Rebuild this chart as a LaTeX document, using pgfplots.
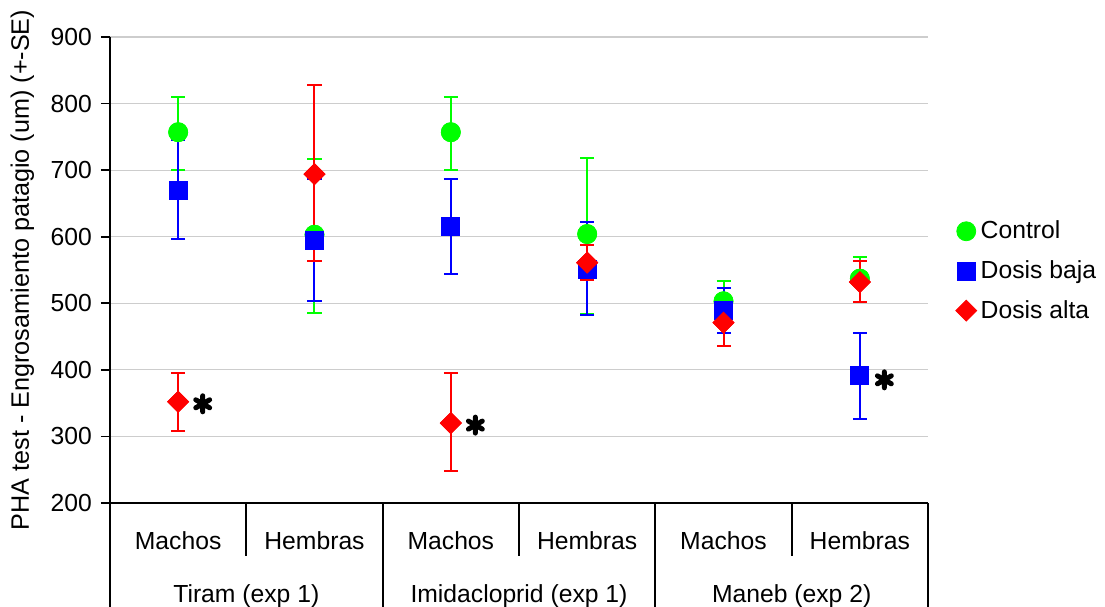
\documentclass[border=0pt]{standalone}
\usepackage{pgfplots}
\pgfplotsset{compat=1.18}
\usepackage{pgfplotstable}
\usepackage{fontspec}
\setmainfont{Liberation Sans}
\definecolor{cgreen}{RGB}{0,255,0}
\definecolor{cblue}{RGB}{0,0,255}
\definecolor{cred}{RGB}{255,0,0}
\definecolor{cgrid}{RGB}{205,205,205}

\pgfplotstableread{
x y ep em
0 757 53 57
1 603 114 117
2 757 53 57
3 604 114 120
4 503 31 31
5 537 32 35
}\control
\pgfplotstableread{
x y ep em
0 670 75 74
1 594 92 91
2 615 71 71
3 551 71 68
4 489 34 34
5 391 65 65
}\baja
\pgfplotstableread{
x y ep em
0 352 43 44
1 694 134 130
2 320 75 72
3 561 26 26
4 471 34 35
5 532 31 30
}\alta
\pgfplotstableread{
x y
0.18 349
2.18 317
5.18 385
}\stars

\begin{document}
\begin{tikzpicture}[font=\fontsize{12.4}{14.8}\selectfont]
\begin{axis}[
  name=ax,
  scale only axis,
  width=409bp, height=233bp,
  xmin=-0.5, xmax=5.5,
  ymin=200, ymax=900,
  ytick={200,300,...,900},
  xtick={0,...,5},
  xticklabels={Machos,Hembras,Machos,Hembras,Machos,Hembras},
  xticklabel style={yshift=-6.5bp},
  major x tick style={draw=none},
  axis x line*=bottom,
  axis y line*=left,
  axis line style={line width=0.9bp, -},
  tick style={line width=0.9bp, black},
  tick align=outside,
  major tick length=4.5bp,
  ymajorgrids,
  grid style={cgrid, line width=0.6bp},
  /pgf/number format/assume math mode=true,
  yticklabel style={xshift=-1bp},
  ylabel={PHA test - Engrosamiento patagio (um) (+-SE)},
  ylabel style={yshift=1.5bp, xshift=0bp, font=\fontsize{12.65}{15}\selectfont},
  clip=false,
  legend style={draw=none, fill=none, at={(axis description cs:1.0335,0.498)}, anchor=west,
    row sep=5.4bp, font=\fontsize{12.4}{14.8}\selectfont, inner sep=0pt},
  legend cell align=left,
]
% pass 1: error bars
\addplot[only marks, mark=*, mark size=4.75bp, color=cgreen,
  error bars/.cd, y dir=both, y explicit,
  error bar style={cgreen, line width=1bp},
  error mark options={rotate=90, mark size=3.5bp, line width=1bp, cgreen}]
  table[x=x, y=y, y error plus=ep, y error minus=em]{\control};
\addlegendentry{Control}
\addplot[only marks, mark=square*, mark size=4.5bp, color=cblue,
  error bars/.cd, y dir=both, y explicit,
  error bar style={cblue, line width=1bp},
  error mark options={rotate=90, mark size=3.5bp, line width=1bp, cblue}]
  table[x=x, y=y, y error plus=ep, y error minus=em]{\baja};
\addlegendentry{Dosis baja}
\addplot[only marks, mark=square*, mark size=3.7bp, mark options={rotate=45}, color=cred,
  error bars/.cd, y dir=both, y explicit,
  error bar style={cred, line width=1bp},
  error mark options={rotate=90, mark size=3.5bp, line width=1bp, cred}]
  table[x=x, y=y, y error plus=ep, y error minus=em]{\alta};
\addlegendentry{Dosis alta}
% pass 2: markers on top
\addplot[forget plot, only marks, mark=*, mark size=4.75bp, color=cgreen] table[x=x,y=y]{\control};
\addplot[forget plot, only marks, mark=square*, mark size=4.5bp, color=cblue] table[x=x,y=y]{\baja};
\addplot[forget plot, only marks, mark=square*, mark size=3.7bp, mark options={rotate=45}, color=cred] table[x=x,y=y]{\alta};
% significance asterisks
\addplot[forget plot, only marks, mark=asterisk, mark size=4bp, black,
  mark options={line width=2.5bp, line cap=round}] table[x=x,y=y]{\stars};
% category separators
\draw[line width=0.9bp] (axis cs:0.5,200) -- ([yshift=-26.5bp]axis cs:0.5,200);
\draw[line width=0.9bp] (axis cs:2.5,200) -- ([yshift=-26.5bp]axis cs:2.5,200);
\draw[line width=0.9bp] (axis cs:4.5,200) -- ([yshift=-26.5bp]axis cs:4.5,200);
\draw[line width=0.9bp] (axis cs:-0.5,200) -- ([yshift=-52bp]axis cs:-0.5,200);
\draw[line width=0.9bp] (axis cs:1.5,200) -- ([yshift=-52bp]axis cs:1.5,200);
\draw[line width=0.9bp] (axis cs:3.5,200) -- ([yshift=-52bp]axis cs:3.5,200);
\draw[line width=0.9bp] (axis cs:5.5,200) -- ([yshift=-52bp]axis cs:5.5,200);
\node[anchor=base] at ([yshift=-50bp]axis cs:0.5,200) {Tiram (exp 1)};
\node[anchor=base] at ([yshift=-50bp]axis cs:2.5,200) {Imidacloprid (exp 1)};
\node[anchor=base] at ([yshift=-50bp]axis cs:4.5,200) {Maneb (exp 2)};
\end{axis}
\pgfresetboundingbox
\path[use as bounding box] ([xshift=-55bp,yshift=-52bp]ax.south west) rectangle ([xshift=88.5bp,yshift=18.5bp]ax.north east);
\end{tikzpicture}
\end{document}
